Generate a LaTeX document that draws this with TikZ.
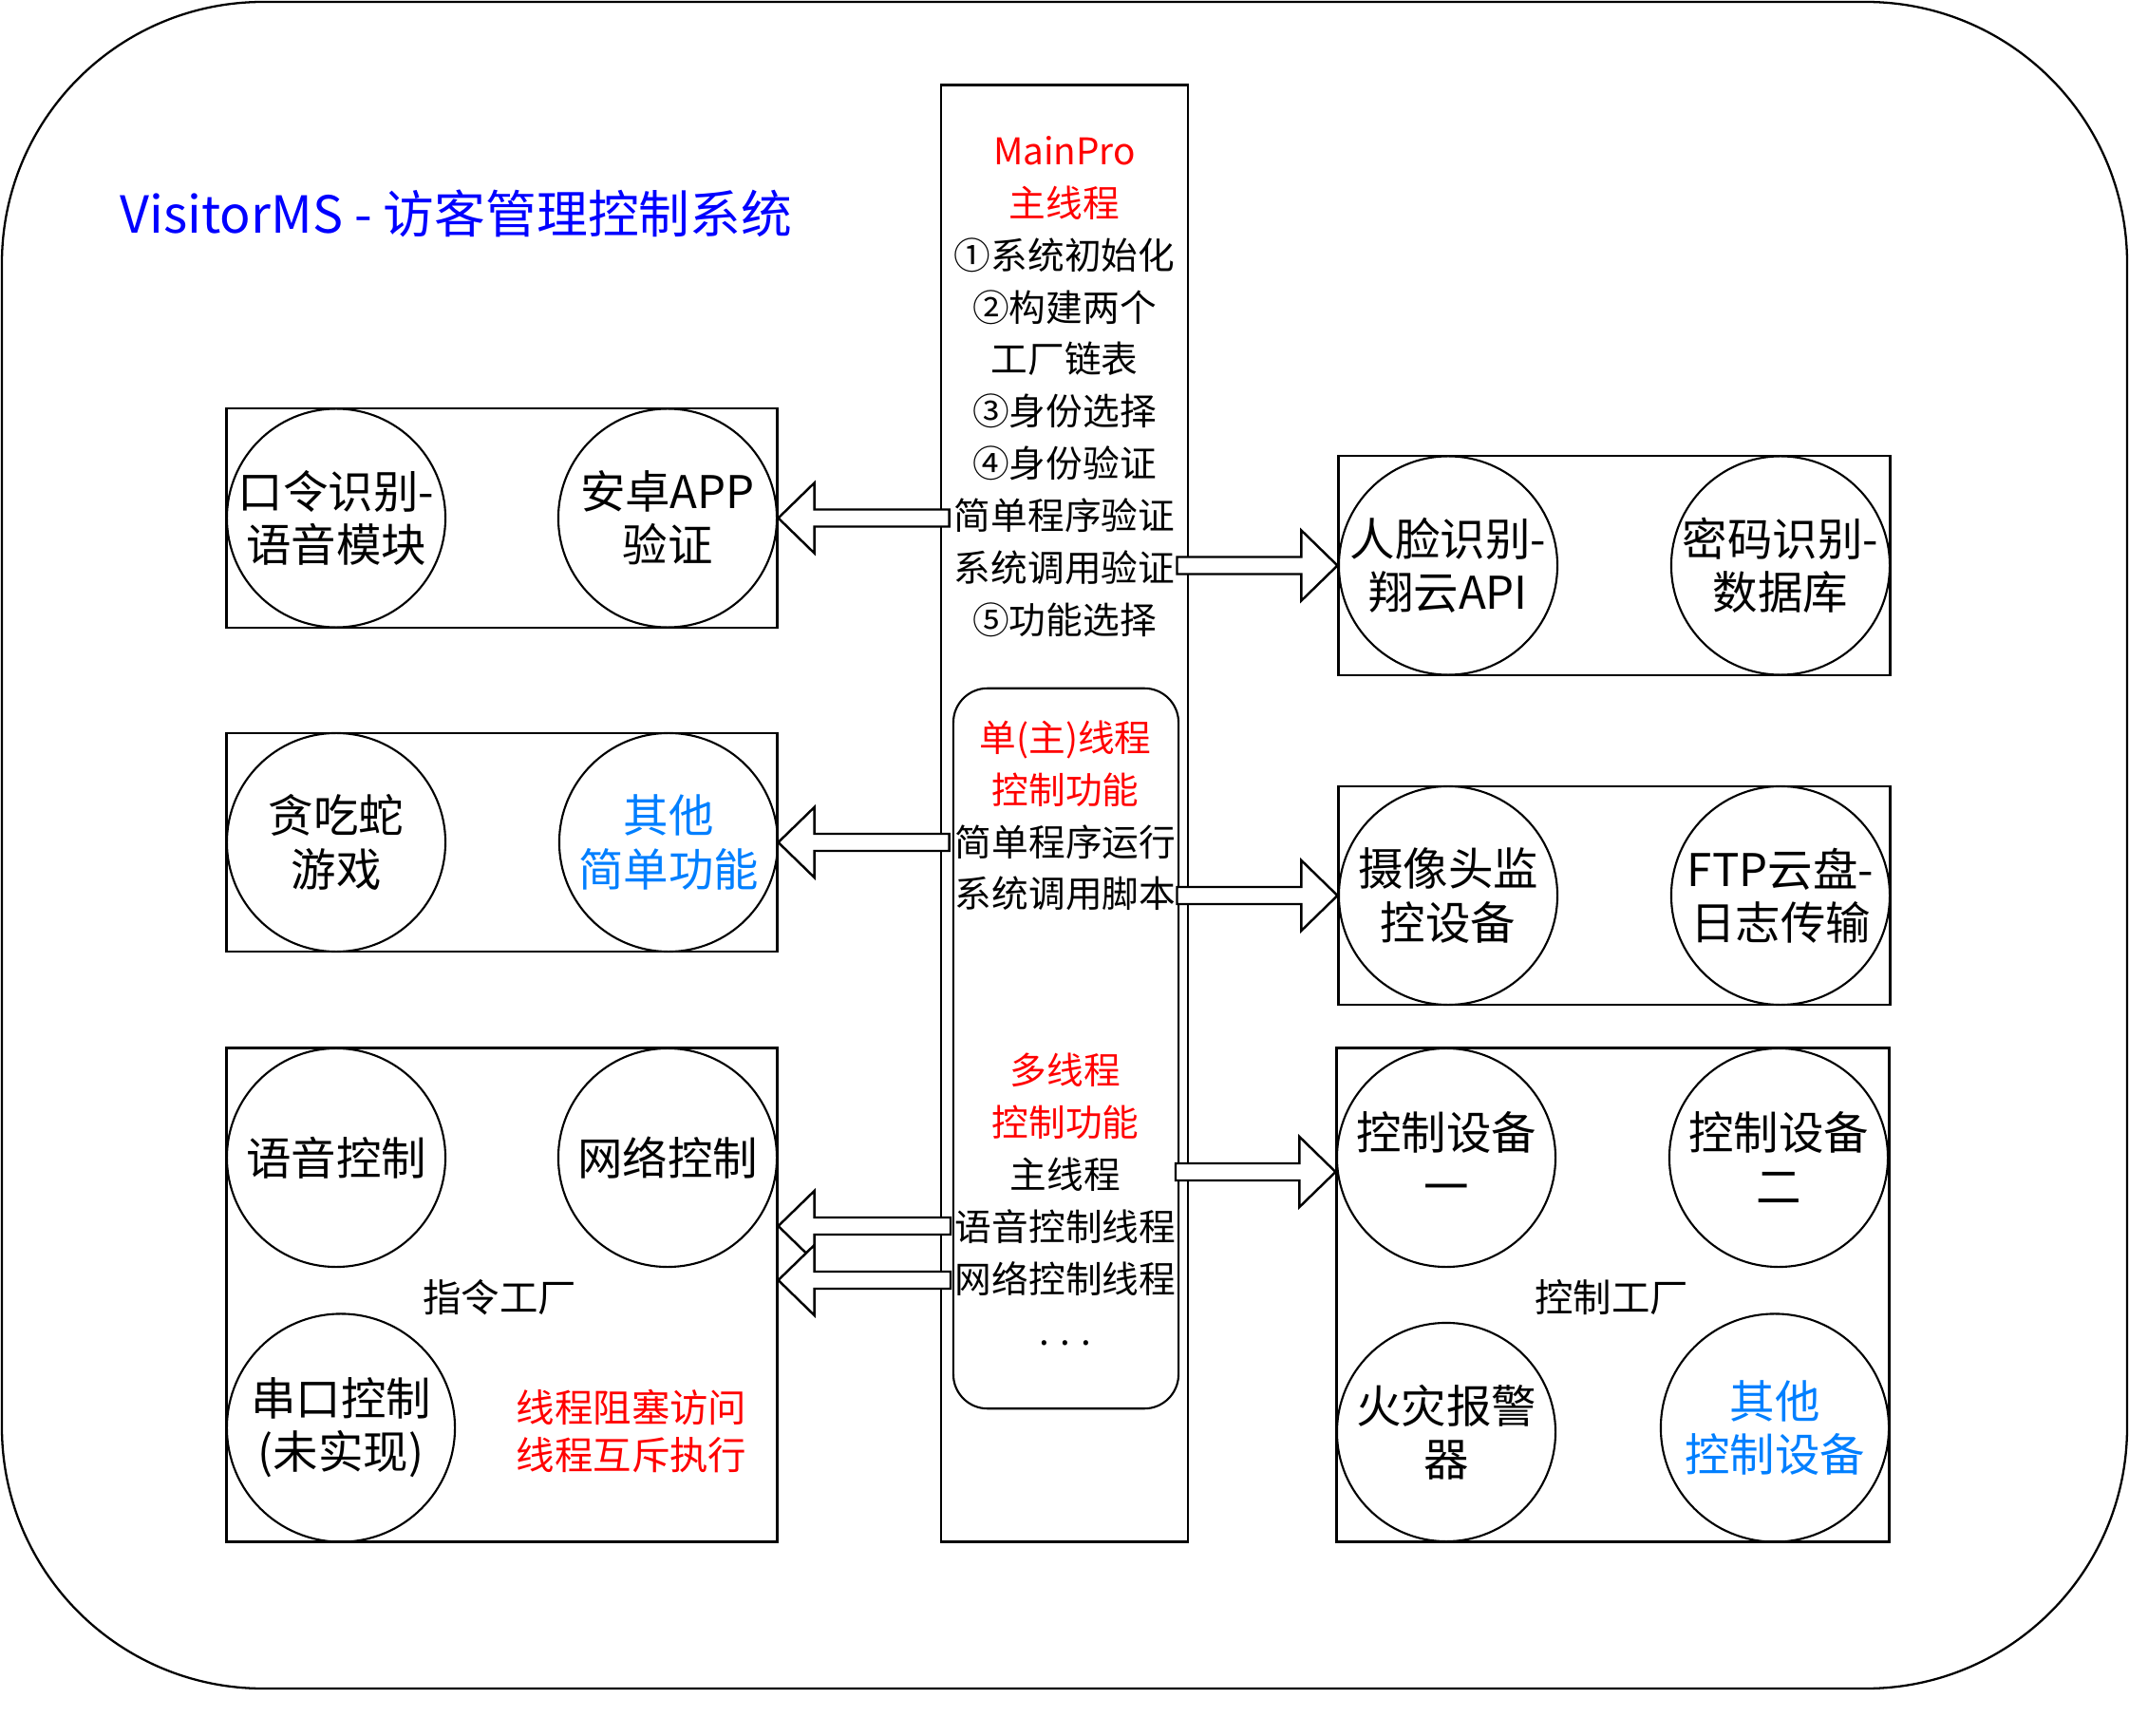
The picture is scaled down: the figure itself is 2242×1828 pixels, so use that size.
\documentclass[tikz,border=0pt]{standalone}
\usepackage{fontspec}
\setmainfont{Noto Sans CJK SC}
\usetikzlibrary{calc}
\definecolor{lblue}{HTML}{007FFF}

% fat hollow arrow from #1 towards the x of #2 (y taken from #1)
\newcommand{\fatarrow}[2]{%
  \draw[fill=white, line width=0.7pt] let \p1=(#1), \p2=(#2), \n1={ifthenelse(\x2>\x1,1,-1)*0.38cm} in
    (\x1,\y1+0.09cm) -- (\x2-\n1,\y1+0.09cm) -- (\x2-\n1,\y1+0.37cm) -- (\x2,\y1)
    -- (\x2-\n1,\y1-0.37cm) -- (\x2-\n1,\y1-0.09cm) -- (\x1,\y1-0.09cm) -- cycle;}

\begin{document}
\begin{tikzpicture}[x=0.01cm, y=-0.01cm,
	grp/.style={draw, line width=0.8pt, inner sep=0},
	dev/.style={draw, circle, line width=0.6pt, minimum size=2.3cm, inner sep=0, align=center, font=\fontsize{13.5}{16}\selectfont},
	big/.style={dev, minimum size=2.4cm},
	lbl/.style={align=center, font=\fontsize{11}{15.6}\selectfont}]
	\useasboundingbox (0,0) rectangle (2242,1828);
	\draw [line width=0.65pt, rounded corners=2.75cm] (2,2) rectangle (2240,1778);
	\node [anchor=west, inner sep=0, text=blue, font=\fontsize{15.3}{18}\selectfont] (title) at (126,225) {VisitorMS - 访客管理控制系统};

	% main thread column
	\node [grp, minimum width=2.6cm, minimum height=15.33cm] (main) at (1121,856.5) {};
	\node [draw, line width=0.6pt, rounded corners=0.36cm, minimum width=2.37cm, minimum height=7.58cm] (sub) at (1122.5,1104) {};
	\node [lbl] (steps) at (1121,407) {\textcolor{red}{MainPro}\\\textcolor{red}{主线程}\\①系统初始化\\②构建两个\\工厂链表\\③身份选择\\④身份验证\\简单程序验证\\系统调用验证\\⑤功能选择};
	\node [lbl] (single) at (1122,859) {\textcolor{red}{单(主)线程}\\\textcolor{red}{控制功能}\\简单程序运行\\系统调用脚本};
	\node [lbl] (multi) at (1122,1263) {\textcolor{red}{多线程}\\\textcolor{red}{控制功能}\\主线程\\语音控制线程\\网络控制线程\\. . .};

	% left side
	\node [grp, minimum width=5.79cm, minimum height=2.31cm] (L1) at (528.5,545.5) {};
	\node [grp, minimum width=5.79cm, minimum height=2.30cm] (L2) at (528.5,887) {};
	\node [grp, minimum width=5.79cm, minimum height=5.19cm] (L3) at (528.5,1363.5) {};
	\node [dev] (voice) at (354,545.5) {口令识别-\\语音模块};
	\node [dev] (app) at (703,545.5) {安卓APP\\验证};
	\node [dev] (snake) at (354,887) {贪吃蛇\\游戏};
	\node [dev, text=lblue] (simple) at (704,887) {其他\\简单功能};
	\node [dev] (vctl) at (354,1219) {语音控制};
	\node [dev] (nctl) at (703,1219) {网络控制};
	\node [big] (sctl) at (359,1503.5) {串口控制\\(未实现)};
	\node [lbl, font=\fontsize{11.5}{15.6}\selectfont] (cmdf) at (526,1366) {指令工厂};
	\node [lbl, text=red, font=\fontsize{11.5}{14}\selectfont] (mutex) at (665,1507) {线程阻塞访问\\线程互斥执行};

	% right side
	\node [grp, minimum width=5.8cm, minimum height=2.31cm] (R1) at (1700,595.5) {};
	\node [grp, minimum width=5.8cm, minimum height=2.30cm] (R2) at (1700,943) {};
	\node [grp, minimum width=5.81cm, minimum height=5.19cm] (R3) at (1698.5,1363.5) {};
	\node [dev] (face) at (1525,595.5) {人脸识别-\\翔云API};
	\node [dev] (pwd) at (1875,595.5) {密码识别-\\数据库};
	\node [dev] (cam) at (1525,943) {摄像头监\\控设备};
	\node [dev] (ftp) at (1875,943) {FTP云盘-\\日志传输};
	\node [dev] (dev1) at (1523,1219) {控制设备\\一};
	\node [dev] (dev2) at (1873,1219) {控制设备\\二};
	\node [dev] (fire) at (1523,1508) {火灾报警\\器};
	\node [big, text=lblue] (other) at (1869,1503.5) {其他\\控制设备};
	\node [lbl, font=\fontsize{11.5}{15.6}\selectfont] (ctlf) at (1697,1366) {控制工厂};

	% arrows out of the main column
	\coordinate (s1) at ($(main.west |- L1.east)+(10,0)$);
	\coordinate (s2) at ($(main.east |- R1.west)+(-13,0)$);
	\coordinate (s3) at ($(main.west |- L2.east)+(10,0)$);
	\coordinate (s4) at ($(main.east |- R2.west)+(-13,0)$);
	\coordinate (s5) at (1238,1234);
	\coordinate (s6) at (1001,1291);
	\coordinate (s7) at (1001,1348);
	\fatarrow{s1}{L1.east}
	\fatarrow{s2}{R1.west}
	\fatarrow{s3}{L2.east}
	\fatarrow{s4}{R2.west}
	\fatarrow{s5}{R3.west}
	\fatarrow{s6}{L3.east}
	\fatarrow{s7}{L3.east}
\end{tikzpicture}
\end{document}
